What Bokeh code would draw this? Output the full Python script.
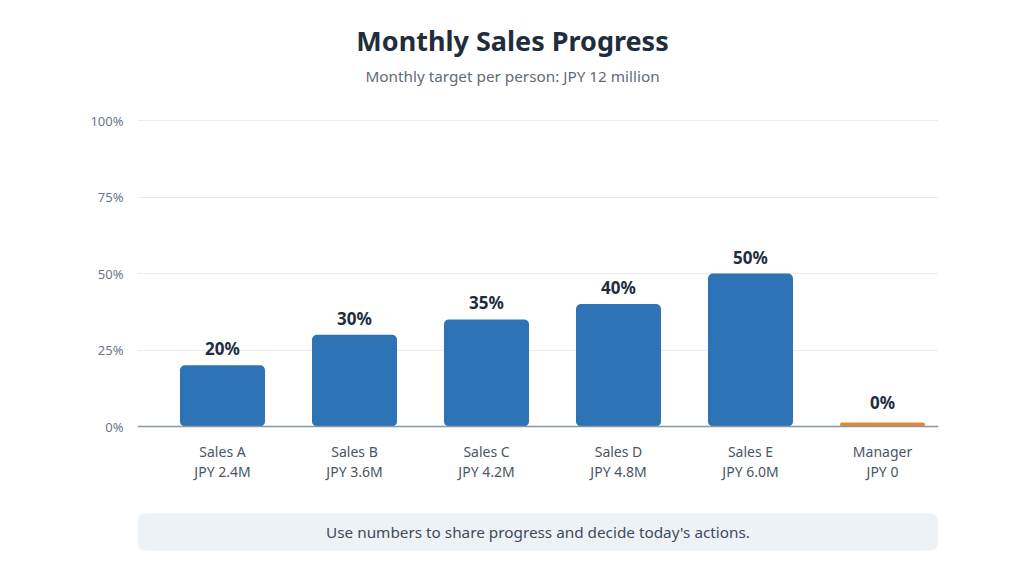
from bokeh.plotting import figure
from bokeh.models import Range1d, FixedTicker, Span, ColumnDataSource, CustomJSTickFormatter
from bokeh.embed import file_html
from bokeh.resources import INLINE
from bokeh.core.properties import value

# ---- data ----
names = ["Sales A", "Sales B", "Sales C", "Sales D", "Sales E", "Manager"]
amounts = ["JPY 2.4M", "JPY 3.6M", "JPY 4.2M", "JPY 4.8M", "JPY 6.0M", "JPY 0"]
progress = [0.20, 0.30, 0.35, 0.40, 0.50, 0.0]
pct_labels = ["20%", "30%", "35%", "40%", "50%", "0%"]
y_ticks = [0, 0.25, 0.5, 0.75, 1.0]
y_tick_labels = ["0%", "25%", "50%", "75%", "100%"]
title_text = "Monthly Sales Progress"
subtitle_text = "Monthly target per person: JPY 12 million"
footer_text = "Use numbers to share progress and decide today's actions."

# ---- style / layout ----
FONT = "Noto Sans"
BLUE = "#2e73b5"
ORANGE = "#e3892f"
W, H = 1008, 560
FRAME_L, FRAME_R = 137, 938        # px
ZERO_PX, UNIT_PX = 426, 306        # px of 0%, px per 100%
X0_PX, STEP_PX = 222, 132          # centre of first bar, bar spacing
BAR_W = 0.644
MIN_VIS = 4 / UNIT_PX              # min visible bar height
LABEL_MIN = 8 / UNIT_PX            # min label anchor height


def fy(py):
    return (ZERO_PX - py) / UNIT_PX


def fx(px):
    return (px - X0_PX) / STEP_PX


xs = list(range(len(names)))
display = [max(v, MIN_VIS) for v in progress]
label_y = [max(v, LABEL_MIN) for v in progress]
colors = [BLUE if v > 0 else ORANGE for v in progress]

src = ColumnDataSource(dict(x=xs, top=display, ly=label_y, color=colors,
                            pct=pct_labels, name=names, amt=amounts))

p = figure(width=W, height=H, output_backend="svg", toolbar_location=None,
           x_range=Range1d(fx(FRAME_L), fx(FRAME_R)),
           y_range=Range1d(fy(H), fy(0)),
           x_axis_location=None, min_border_left=FRAME_L,
           min_border_right=W - FRAME_R, min_border_top=0,
           min_border_bottom=0)
p.outline_line_color = None
p.background_fill_color = "white"
p.border_fill_color = "white"
p.xgrid.visible = False

# y axis
ax = p.yaxis[0]
ax.ticker = FixedTicker(ticks=y_ticks)
ax.formatter = CustomJSTickFormatter(args=dict(t=y_ticks, l=y_tick_labels),
                                     code="const i = t.findIndex(v => Math.abs(v - tick) < 1e-6); return i >= 0 ? l[i] : '';")
ax.axis_line_color = None
ax.major_tick_line_color = None
ax.minor_tick_line_color = None
ax.major_label_standoff = 8
ax.major_label_text_font = FONT
ax.major_label_text_font_size = "13px"
ax.major_label_text_color = "#6b7785"

p.ygrid.ticker = FixedTicker(ticks=y_ticks[1:])
p.ygrid.grid_line_color = "#e6ecf2"
p.ygrid.grid_line_width = 1

# bars
p.vbar(x="x", top="top", bottom=0, width=BAR_W, fill_color="color",
       line_color=None, border_radius=5, source=src)

# baseline
p.add_layout(Span(location=0, dimension="width", line_color="#8a96a3", line_width=1.5))

# value labels
p.text(x="x", y="ly", text="pct", source=src, text_align="center",
       text_baseline="bottom", y_offset=-5, text_font=value(FONT),
       text_font_style="bold", text_font_size="17px", text_color="#1f2d3d")

# category labels
p.text(x="x", y=fy(451), text="name", source=src, text_align="center",
       text_baseline="middle", text_font=value(FONT), text_font_size="14px",
       text_color="#4a5565")
p.text(x="x", y=fy(471), text="amt", source=src, text_align="center",
       text_baseline="middle", text_font=value(FONT), text_font_size="14px",
       text_color="#4a5565")

# title / subtitle
p.text(x=[fx(512)], y=[fy(40)], text=[title_text], text_align="center",
       text_baseline="middle", text_font=value(FONT), text_font_style="bold",
       text_font_size="27px", text_color="#1f2d3d")
p.text(x=[fx(512)], y=[fy(75)], text=[subtitle_text], text_align="center",
       text_baseline="middle", text_font=value(FONT), text_font_size="15.3px",
       text_color="#5f6b78")

# footer box
p.quad(left=[fx(FRAME_L)], right=[fx(FRAME_R)], top=[fy(513)], bottom=[fy(550)],
       fill_color="#edf2f7", line_color=None, border_radius=8)
p.text(x=[fx((FRAME_L + FRAME_R) / 2)], y=[fy(531.5)], text=[footer_text],
       text_align="center", text_baseline="middle", text_font=value(FONT),
       text_font_size="15.3px", text_color="#3d4b5c")

open("out.html", "w").write(file_html(p, INLINE))
